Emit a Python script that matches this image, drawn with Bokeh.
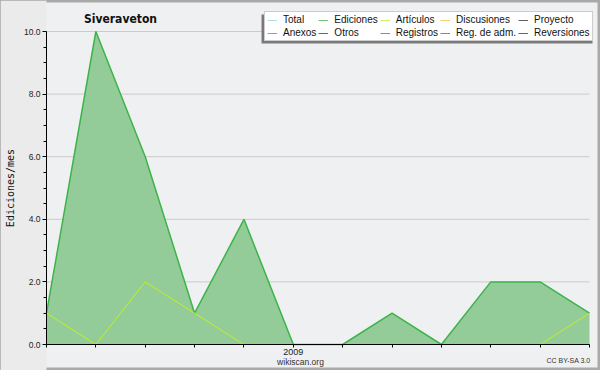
from bokeh.plotting import figure
from bokeh.models import (FixedTicker, Legend, LegendItem, Label, BoxAnnotation,
                          ColumnDataSource, Range1d)
from bokeh.embed import file_html
from bokeh.resources import INLINE

# ---------------- data ----------------
months = ["2008-08", "2008-09", "2008-10", "2008-11", "2008-12", "2009-01",
          "2009-02", "2009-03", "2009-04", "2009-05", "2009-06", "2009-07"]
ediciones = [1, 10, 6, 1, 4, 0, 0, 1, 0, 2, 2, 1]
articulos = [1, 0, 2, 1, 0, 0, 0, 0, 0, 0, 0, 1]
x_tick_labels = ["", "", "", "", "", "2009", "", "", "", "", "", ""]
y_ticks = [0, 2, 4, 6, 8, 10]
y_tick_labels = ["0.0", "2.0", "4.0", "6.0", "8.0", "10.0"]
y_minor_ticks = [0.5, 1, 1.5, 2.5, 3, 3.5, 4.5, 5, 5.5, 6.5, 7, 7.5, 8.5, 9, 9.5]
legend_labels = ["Total", "Ediciones", "Artículos", "Discusiones", "Proyecto",
                 "Anexos", "Otros", "Registros", "Reg. de adm.", "Reversiones"]
legend_colors = ["#a8e2e0", "#6cc46c", "#c8f060", "#f8d070", "#606060",
                 "#f08050", "#9040e0", "#8080f0", "#d050e0", "#e03030"]
title_text = "Siveraveton"
y_axis_title = "Ediciones/mes"
credit_text = "wikiscan.org"
license_text = "CC BY-SA 3.0"

x_pos = list(range(len(months)))

# ---------------- layout (pixels) ----------------
W, H = 600, 370
PL, PR, PT, PB = 46, 589, 31, 344      # data area inside the canvas
x_lo, x_hi = x_pos[0], x_pos[-1]
y_lo, y_hi = y_ticks[0], y_ticks[-1]
xs = (PR - PL) / (x_hi - x_lo)
ys = (PB - PT) / (y_hi - y_lo)
x_range = Range1d(x_lo - PL / xs, x_hi + (W - PR) / xs)
y_range = Range1d(y_lo - (H - PB) / ys, y_hi + PT / ys)

p = figure(width=W, height=H, output_backend="svg", toolbar_location=None,
           title=None, x_range=x_range, y_range=y_range,
           min_border=0, min_border_left=0, min_border_right=0,
           min_border_top=0, min_border_bottom=0)
p.background_fill_color = "#eff0f2"
p.border_fill_color = "#eff0f2"
p.outline_line_color = "#a9a9a9"
p.outline_line_width = 4

# left strip slightly greyer
p.add_layout(BoxAnnotation(left=0, right=PL, bottom=0, top=H,
                           left_units="screen", right_units="screen",
                           bottom_units="screen", top_units="screen",
                           fill_color="#ebebeb", fill_alpha=1, line_color=None,
                           level="underlay"))

# axes (fixed inside the canvas)
xa = p.xaxis[0]
xa.fixed_location = y_lo
xa.bounds = (x_lo, x_hi)
xa.ticker = FixedTicker(ticks=x_pos, minor_ticks=[])
xa.major_label_overrides = {i: lab for i, lab in zip(x_pos, x_tick_labels)}
xa.major_tick_in = 0
xa.major_tick_out = 3
xa.minor_tick_line_color = None
xa.major_label_standoff = 1
xa.major_label_text_font = "Liberation Sans"
xa.major_label_text_font_size = "9px"
xa.major_label_text_color = "#222222"
xa.axis_line_color = "#000000"
xa.major_tick_line_color = "#000000"

yt = FixedTicker(ticks=y_ticks, minor_ticks=y_minor_ticks)
ya = p.yaxis[0]
ya.fixed_location = x_lo
ya.bounds = (y_lo, y_hi)
ya.ticker = yt
ya.major_label_overrides = {t: lab for t, lab in zip(y_ticks, y_tick_labels)}
ya.major_tick_in = 0
ya.major_tick_out = 4
ya.minor_tick_in = 0
ya.minor_tick_out = 3
ya.major_label_standoff = 2
ya.major_label_text_font = "Liberation Sans"
ya.major_label_text_font_size = "8.5px"
ya.major_label_text_color = "#222222"
ya.axis_line_color = "#000000"
ya.major_tick_line_color = "#000000"
ya.minor_tick_line_color = "#000000"
ya.axis_label = y_axis_title
ya.axis_label_text_font = "DejaVu Sans Mono"
ya.axis_label_text_font_size = "10px"
ya.axis_label_text_font_style = "normal"
ya.axis_label_text_color = "#111111"
ya.axis_label_standoff = 5

p.xgrid.visible = False
p.ygrid.visible = False

src = ColumnDataSource(dict(x=x_pos, ed=ediciones, ar=articulos))
# horizontal grid lines across the data area
p.segment(x0=x_lo, x1=x_hi, y0=y_ticks[1:], y1=y_ticks[1:],
          line_color="#cbcbcb", line_width=1, level="underlay")

# data glyphs
p.varea(x="x", y1=0, y2="ed", source=src, fill_color="#93cc98", fill_alpha=1)
p.line("x", "ed", source=src, line_color="#3cb44a", line_width=1.5)
p.line("x", "ar", source=src, line_color="#c4f01c", line_width=1)

# legend shadow + legend
p.add_layout(BoxAnnotation(left=261, right=592, bottom=H - 43, top=H - 14,
                           left_units="screen", right_units="screen",
                           bottom_units="screen", top_units="screen",
                           fill_color="#7a7a7a", fill_alpha=1, line_color=None))

nan = float("nan")
items = []
for lab, col in zip(legend_labels, legend_colors):
    r = p.line(x=[nan], y=[nan], line_color=col, line_width=1)
    items.append(LegendItem(label=lab, renderers=[r]))
legend = Legend(items=items, location=(264, H - 41), orientation="horizontal", ncols=5,
                margin=0, padding=2, spacing=2, label_standoff=6,
                glyph_width=10, glyph_height=10, label_height=10,
                label_text_font="Liberation Sans", label_text_font_size="10px",
                label_text_color="#111111",
                border_line_color="#9a9a9a", border_line_width=1,
                background_fill_color="#ffffff", background_fill_alpha=1)
p.add_layout(legend)

# texts
p.add_layout(Label(x=120, y=H - 18, x_units="screen", y_units="screen", text=title_text,
                   text_font="DejaVu Sans Condensed, DejaVu Sans, sans-serif",
                   text_font_style="bold", text_font_size="12px",
                   text_align="center", text_baseline="middle", text_color="#111111"))
p.add_layout(Label(x=300, y=H - 361, x_units="screen", y_units="screen", text=credit_text,
                   text_font="Liberation Sans", text_font_size="8.5px",
                   text_align="center", text_baseline="middle", text_color="#333333"))
p.add_layout(Label(x=590, y=H - 360, x_units="screen", y_units="screen", text=license_text,
                   text_font="Liberation Sans", text_font_size="7px",
                   text_align="right", text_baseline="middle", text_color="#333333"))

open("out.html", "w").write(file_html(p, INLINE))
